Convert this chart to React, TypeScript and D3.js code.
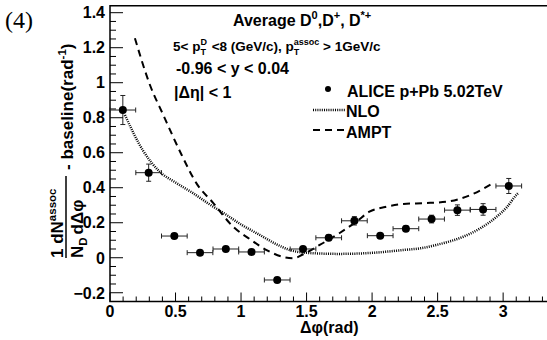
import { useEffect, useRef } from 'react'
import * as d3 from 'd3'

// ALICE p+Pb points (bin centres in dphi)
const dphi = [0.098, 0.295, 0.491, 0.687, 0.884, 1.08, 1.276, 1.473, 1.669, 1.865, 2.062, 2.258, 2.454, 2.651, 2.847, 3.043]
const yields = [0.844, 0.486, 0.124, 0.029, 0.05, 0.033, -0.127, 0.05, 0.114, 0.211, 0.126, 0.166, 0.221, 0.272, 0.276, 0.41]
const yErr = [0.083, 0.049, 0.012, 0.01, 0.012, 0.01, 0.01, 0.014, 0.016, 0.024, 0.012, 0.015, 0.022, 0.03, 0.033, 0.043]
const xErr = [0.098, 0.098, 0.098, 0.098, 0.098, 0.098, 0.098, 0.098, 0.098, 0.098, 0.098, 0.098, 0.098, 0.098, 0.098, 0.098]

// NLO curve
const nloX = [0.114, 0.25, 0.38, 0.5, 0.636, 0.75, 0.89, 1.0, 1.144, 1.25, 1.373, 1.5, 1.75, 2.0, 2.25, 2.37, 2.5, 2.695, 2.83, 2.95, 3.03, 3.1, 3.12]
const nloY = [0.815, 0.615, 0.491, 0.43, 0.368, 0.31, 0.244, 0.19, 0.13, 0.085, 0.044, 0.028, 0.022, 0.028, 0.045, 0.054, 0.075, 0.12, 0.17, 0.234, 0.29, 0.358, 0.372]

// AMPT curve
const amptX = [0.19, 0.305, 0.407, 0.547, 0.66, 0.79, 0.94, 1.07, 1.195, 1.335, 1.4, 1.475, 1.6, 1.75, 1.88, 1.98, 2.1, 2.24, 2.4, 2.57, 2.75, 2.91]
const amptY = [1.254, 0.987, 0.815, 0.587, 0.425, 0.311, 0.177, 0.105, 0.044, 0.002, -0.003, 0.02, 0.073, 0.14, 0.206, 0.263, 0.29, 0.307, 0.312, 0.32, 0.358, 0.42]

const yTicks = [-0.2, 0, 0.2, 0.4, 0.6, 0.8, 1, 1.2, 1.4]
const yTickLabels = ['\u22120.2', '0', '0.2', '0.4', '0.6', '0.8', '1', '1.2', '1.4']
const xTicks = [0, 0.5, 1, 1.5, 2, 2.5, 3]
const xTickLabels = ['0', '0.5', '1', '1.5', '2', '2.5', '3']

const FONT = '"Liberation Sans", Arial, sans-serif'

export default function App() {
  const svgRef = useRef<SVGSVGElement>(null)
  const width = 547
  const height = 340

  useEffect(() => {
    const svg = d3.select(svgRef.current)
    svg.selectAll('*').remove()

    const x = d3.scaleLinear().domain([0, 3.35]).range([110, 549])
    const y = d3.scaleLinear().domain([-0.25, 1.44]).range([301.5, 5.7])

    const g = svg.append('g')

    // frame
    g.append('path')
      .attr('d', `M${x(3.35)},${y(1.44)}H${x(0)}V${y(-0.25)}H${x(3.35)}`)
      .attr('fill', 'none').attr('stroke', '#000').attr('stroke-width', 1.5)

    // y ticks
    d3.range(-0.2, 1.41, 0.05).forEach(v => {
      const major = Math.abs(Math.round(v * 5) - v * 5) < 1e-6
      g.append('line')
        .attr('x1', x(0)).attr('x2', x(0) + (major ? 13 : 6))
        .attr('y1', y(v)).attr('y2', y(v))
        .attr('stroke', '#000').attr('stroke-width', 1)
    })
    g.selectAll('.ylab').data(yTicks).enter().append('text')
      .attr('x', 105).attr('y', d => y(d)).attr('dy', '0.36em')
      .attr('text-anchor', 'end').attr('font-family', FONT).attr('font-weight', 'bold')
      .attr('font-size', 16).text((d, i) => yTickLabels[i])

    // x ticks
    d3.range(0, 3.35, 0.1).forEach(v => {
      const major = Math.abs(Math.round(v * 2) - v * 2) < 1e-6
      g.append('line')
        .attr('x1', x(v)).attr('x2', x(v))
        .attr('y1', y(-0.25)).attr('y2', y(-0.25) - (major ? 9 : 5))
        .attr('stroke', '#000').attr('stroke-width', 1)
    })
    g.selectAll('.xlab').data(xTicks).enter().append('text')
      .attr('x', d => x(d)).attr('y', 317)
      .attr('text-anchor', 'middle').attr('font-family', FONT).attr('font-weight', 'bold')
      .attr('font-size', 16).text((d, i) => xTickLabels[i])

    // curves
    const nlo = d3.line<number>().x((d, i) => x(nloX[i])).y(d => y(d)).curve(d3.curveMonotoneX)
    g.append('path').attr('d', nlo(nloY))
      .attr('fill', 'none').attr('stroke', '#000').attr('stroke-width', 2.5)
      .attr('stroke-dasharray', '1,1.2')

    const ampt = d3.line<number>().x((d, i) => x(amptX[i])).y(d => y(d)).curve(d3.curveMonotoneX)
    g.append('path').attr('d', ampt(amptY))
      .attr('fill', 'none').attr('stroke', '#000').attr('stroke-width', 2)
      .attr('stroke-dasharray', '7,5')

    // error bars
    const pts = g.append('g')
    dphi.forEach((d, i) => {
      const cx = x(d), cy = y(yields[i])
      const xl = x(d - xErr[i]), xr = x(d + xErr[i])
      const yt = y(yields[i] + yErr[i]), yb = y(yields[i] - yErr[i])
      pts.append('path')
        .attr('d', `M${xl},${cy}H${xr}M${xl},${cy - 2.5}V${cy + 2.5}M${xr},${cy - 2.5}V${cy + 2.5}M${cx},${yt}V${yb}M${cx - 2.5},${yt}H${cx + 2.5}M${cx - 2.5},${yb}H${cx + 2.5}`)
        .attr('stroke', '#222').attr('stroke-width', 1).attr('fill', 'none')
      pts.append('circle').attr('cx', cx).attr('cy', cy).attr('r', 4).attr('fill', '#000')
    })

    // text block
    const txt = (xx: number, yy: number, size: number) =>
      g.append('text').attr('x', xx).attr('y', yy).attr('font-family', FONT)
        .attr('font-weight', 'bold').attr('font-size', size)

    const t1 = txt(233, 26, 16)
    t1.append('tspan').text('Average D')
    t1.append('tspan').attr('dy', -7).attr('font-size', 11).text('0')
    t1.append('tspan').attr('dy', 7).text(',D')
    t1.append('tspan').attr('dy', -7).attr('font-size', 11).text('+')
    t1.append('tspan').attr('dy', 7).text(', D')
    t1.append('tspan').attr('dy', -7).attr('font-size', 11).text('*+')

    const t2 = txt(173, 51, 13.5)
    t2.append('tspan').text('5< p')
    t2.append('tspan').attr('dy', -6).attr('font-size', 9).text('D')
    t2.append('tspan').attr('dx', -6.5).attr('dy', 10).attr('font-size', 9).text('T')
    t2.append('tspan').attr('dx', 2).attr('dy', -4).text(' <8 (GeV/c), p')
    t2.append('tspan').attr('dy', -6).attr('font-size', 9).text('assoc')
    t2.append('tspan').attr('dx', -25.5).attr('dy', 10).attr('font-size', 9).text('T')
    t2.append('tspan').attr('dx', 20).attr('dy', -4).text(' > 1GeV/c')

    txt(176, 74, 16).text('-0.96 < y < 0.04')
    txt(174, 98, 16).text('|\u0394\u03b7| < 1')

    // legend
    g.append('circle').attr('cx', 328).attr('cy', 89).attr('r', 3).attr('fill', '#000')
    txt(347, 97, 16).text('ALICE p+Pb 5.02TeV')
    g.append('line').attr('x1', 313).attr('x2', 345).attr('y1', 110).attr('y2', 110)
      .attr('stroke', '#000').attr('stroke-width', 2.5).attr('stroke-dasharray', '1,1.2')
    txt(346, 117, 16).text('NLO')
    g.append('line').attr('x1', 313).attr('x2', 345).attr('y1', 130).attr('y2', 130)
      .attr('stroke', '#000').attr('stroke-width', 2).attr('stroke-dasharray', '7,5')
    txt(346, 138, 16).text('AMPT')

    // x title
    txt(300, 333, 16).text('\u0394\u03c6(rad)')

    // y title (rotated)
    const yt = g.append('g').attr('transform', 'rotate(-90)')
    const num = yt.append('text').attr('x', -258).attr('y', 63).attr('font-family', FONT)
      .attr('font-weight', 'bold').attr('font-size', 17)
    num.append('tspan').text('1 dN')
    num.append('tspan').attr('dy', -7).attr('font-size', 11.5).text('assoc')
    const den = yt.append('text').attr('x', -258).attr('y', 83).attr('font-family', FONT)
      .attr('font-weight', 'bold').attr('font-size', 17)
    den.append('tspan').text('N')
    den.append('tspan').attr('dy', 4).attr('font-size', 11.5).text('D')
    den.append('tspan').attr('dy', -4).attr('dx', 3).text('d\u0394\u03c6')
    yt.append('line').attr('x1', -258).attr('x2', -176).attr('y1', 66).attr('y2', 66)
      .attr('stroke', '#000').attr('stroke-width', 1.5)
    const bl = yt.append('text').attr('x', -170).attr('y', 73).attr('font-family', FONT)
      .attr('font-weight', 'bold').attr('font-size', 17)
    bl.append('tspan').text('- baseline(rad')
    bl.append('tspan').attr('dy', -7).attr('font-size', 11.5).text('-1')
    bl.append('tspan').attr('dy', 7).text(')')

    // panel label
    g.append('text').attr('x', 5).attr('y', 28).attr('font-family', '"Liberation Serif", "DejaVu Serif", serif')
      .attr('font-size', 24).text('(4)')
  }, [])

  return (
    <div style={{ position: 'absolute', left: 0, top: 0, width, height, background: '#fff' }}>
      <svg ref={svgRef} width={width} height={height} style={{ display: 'block' }}></svg>
    </div>
  )
}
